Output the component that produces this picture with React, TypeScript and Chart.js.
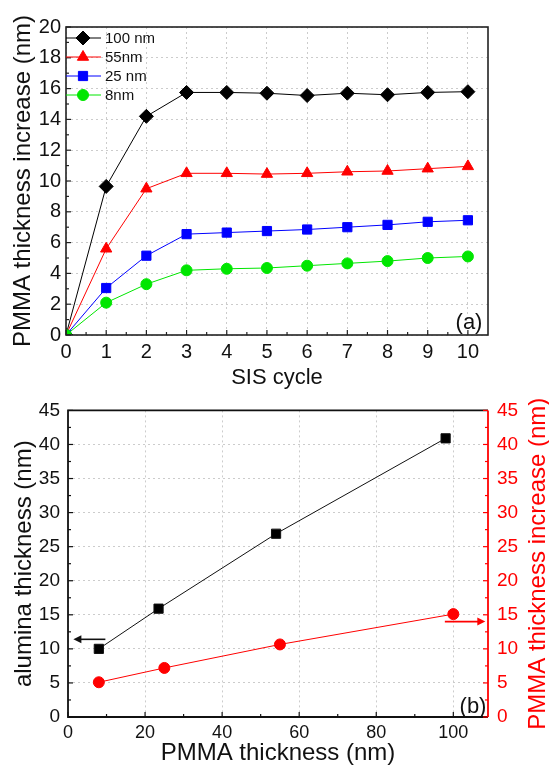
import React, { useEffect, useRef } from 'react';
import { Chart, registerables } from 'chart.js';
import { drawPoint } from 'chart.js/helpers';

Chart.register(...registerables);

// ---------- Data: panel (a) ----------
const sisCycles = [0, 1, 2, 3, 4, 5, 6, 7, 8, 9, 10];
const inc100nm = [0, 9.65, 14.2, 15.75, 15.75, 15.7, 15.55, 15.7, 15.6, 15.75, 15.8];
const inc55nm = [0, 5.6, 9.5, 10.5, 10.5, 10.45, 10.5, 10.6, 10.65, 10.8, 10.95];
const inc25nm = [0, 3.05, 5.15, 6.55, 6.65, 6.75, 6.85, 7.0, 7.15, 7.35, 7.45];
const inc8nm = [0, 2.1, 3.3, 4.2, 4.3, 4.35, 4.5, 4.65, 4.8, 5.0, 5.1];
const seriesLabels = ['100 nm', '55nm', '25 nm', '8nm'];

// ---------- Data: panel (b) ----------
const aluminaPmmaThk = [8, 23.5, 54, 98];
const aluminaThk = [10, 15.9, 26.9, 40.9];
const incPmmaThk = [8, 25, 55, 100];
const incThk = [5.1, 7.2, 10.65, 15.1];

const FONT = "'Liberation Sans', Arial, Helvetica, sans-serif";
Chart.defaults.font.family = FONT;
Chart.defaults.color = '#111';

const toXY = (xs: number[], ys: number[]) => xs.map((x, i) => ({ x, y: ys[i] }));

function tickMarks(
  ctx: CanvasRenderingContext2D,
  scale: any,
  values: number[],
  len: number,
  side: 'bottom' | 'left' | 'right',
  area: any,
) {
  values.forEach((v) => {
    const p = scale.getPixelForValue(v);
    ctx.beginPath();
    if (side === 'bottom') {
      ctx.moveTo(p, area.bottom);
      ctx.lineTo(p, area.bottom - len);
    } else if (side === 'left') {
      ctx.moveTo(area.left, p);
      ctx.lineTo(area.left + len, p);
    } else {
      ctx.moveTo(area.right, p);
      ctx.lineTo(area.right - len, p);
    }
    ctx.stroke();
  });
}

function range(a: number, b: number, step: number) {
  const out: number[] = [];
  for (let v = a; v <= b + 1e-9; v += step) out.push(Math.round(v * 100) / 100);
  return out;
}

function arrow(ctx: CanvasRenderingContext2D, x0: number, y0: number, x1: number, y1: number, color: string) {
  const dir = Math.sign(x1 - x0);
  ctx.save();
  ctx.strokeStyle = color;
  ctx.fillStyle = color;
  ctx.lineWidth = 1.6;
  ctx.beginPath();
  ctx.moveTo(x0, y0);
  ctx.lineTo(x1 - dir * 6, y1);
  ctx.stroke();
  ctx.beginPath();
  ctx.moveTo(x1, y1);
  ctx.lineTo(x1 - dir * 8, y1 - 4);
  ctx.lineTo(x1 - dir * 8, y1 + 4);
  ctx.closePath();
  ctx.fill();
  ctx.restore();
}

const gridOpts = { color: '#cccccc', drawTicks: false, lineWidth: 1 };
const borderOpts = { display: false, dash: [2, 3] };

export default function App() {
  const topRef = useRef<HTMLCanvasElement>(null);
  const botRef = useRef<HTMLCanvasElement>(null);

  useEffect(() => {
    const topPlugin = {
      id: 'topDecor',
      afterDatasetsDraw(chart: any) {
        const { ctx, chartArea: a, scales } = chart;
        ctx.save();
        ctx.strokeStyle = '#222';
        ctx.lineWidth = 1.6;
        ctx.strokeRect(a.left, a.top, a.right - a.left, a.bottom - a.top);
        ctx.lineWidth = 1.2;
        tickMarks(ctx, scales.x, range(0, 10, 1), 5, 'bottom', a);
        tickMarks(ctx, scales.x, range(0.5, 10, 1), 3, 'bottom', a);
        tickMarks(ctx, scales.y, range(0, 20, 2), 5, 'left', a);
        tickMarks(ctx, scales.y, range(1, 19, 2), 3, 'left', a);

        // legend
        const ys = [38, 57, 76, 95];
        chart.data.datasets.forEach((ds: any, i: number) => {
          const y = ys[i];
          ctx.strokeStyle = ds.borderColor;
          ctx.fillStyle = ds.backgroundColor;
          ctx.lineWidth = 1;
          ctx.beginPath();
          ctx.moveTo(a.left, y);
          ctx.lineTo(a.left + 35, y);
          ctx.stroke();
          drawPoint(ctx, { pointStyle: ds.pointStyle, radius: ds.pointRadius, rotation: 0, borderWidth: 1 }, a.left + 17, y);
          ctx.fillStyle = '#111';
          ctx.font = `15px ${FONT}`;
          ctx.textAlign = 'left';
          ctx.textBaseline = 'middle';
          ctx.fillText(ds.label, a.left + 39, y + 1);
        });

        ctx.fillStyle = '#111';
        ctx.font = `22px ${FONT}`;
        ctx.textAlign = 'center';
        ctx.textBaseline = 'middle';
        ctx.fillText('(a)', a.right - 19, a.bottom - 12);
        ctx.restore();
      },
    };

    const top = new Chart(topRef.current!, {
      type: 'line',
      data: {
        datasets: [
          { label: seriesLabels[0], data: toXY(sisCycles, inc100nm), borderColor: '#000000', backgroundColor: '#000000', pointStyle: 'rectRot', pointRadius: 7, order: 3 },
          { label: seriesLabels[1], data: toXY(sisCycles, inc55nm), borderColor: '#ff0000', backgroundColor: '#ff0000', pointStyle: 'triangle', pointRadius: 6.5, order: 2 },
          { label: seriesLabels[2], data: toXY(sisCycles, inc25nm), borderColor: '#0000ff', backgroundColor: '#0000ff', pointStyle: 'rect', pointRadius: 6.5, order: 1 },
          { label: seriesLabels[3], data: toXY(sisCycles, inc8nm), borderColor: '#00e600', backgroundColor: '#00e600', pointStyle: 'circle', pointRadius: 5.5, order: 0 },
        ].map((d) => ({ ...d, borderWidth: 1, pointBorderWidth: 1, tension: 0, pointHoverRadius: d.pointRadius })) as any,
      },
      options: {
        animation: false,
        responsive: false,
        devicePixelRatio: 1,
        layout: { padding: { left: 0, top: 27, right: 61, bottom: 0 } },
        plugins: { legend: { display: false }, tooltip: { enabled: false } },
        scales: {
          x: {
            type: 'linear',
            min: 0,
            max: 10.5,
            afterFit: (s: any) => { s.height = 55; },
            ticks: { stepSize: 1, includeBounds: false, padding: 5, font: { size: 20 }, color: '#111' },
            grid: gridOpts,
            border: borderOpts,
            title: { display: true, text: 'SIS cycle', font: { size: 22, lineHeight: 1 }, padding: { top: 0, bottom: 1 }, color: '#111' },
          },
          y: {
            type: 'linear',
            min: 0,
            max: 20,
            afterFit: (s: any) => { s.width = 66; },
            ticks: { stepSize: 2, padding: 5, font: { size: 20 }, color: '#111' },
            grid: gridOpts,
            border: borderOpts,
            title: { display: true, text: 'PMMA thickness increase (nm)', font: { size: 24, lineHeight: 1 }, padding: { top: 11, bottom: 0 }, color: '#111' },
          },
        },
      } as any,
      plugins: [topPlugin],
    });

    const botPlugin = {
      id: 'botDecor',
      afterDatasetsDraw(chart: any) {
        const { ctx, chartArea: a, scales } = chart;
        ctx.save();
        ctx.lineWidth = 1.8;
        ctx.strokeStyle = '#111';
        ctx.beginPath();
        ctx.moveTo(a.right, a.top);
        ctx.lineTo(a.left, a.top);
        ctx.lineTo(a.left, a.bottom);
        ctx.lineTo(a.right, a.bottom);
        ctx.stroke();
        ctx.strokeStyle = '#ff0000';
        ctx.beginPath();
        ctx.moveTo(a.right, a.top);
        ctx.lineTo(a.right, a.bottom);
        ctx.stroke();

        ctx.lineWidth = 1.2;
        ctx.strokeStyle = '#111';
        tickMarks(ctx, scales.x, range(0, 100, 20), 5, 'bottom', a);
        tickMarks(ctx, scales.x, range(10, 100, 20), 3, 'bottom', a);
        tickMarks(ctx, scales.y, range(0, 45, 5), 5, 'left', a);
        tickMarks(ctx, scales.y, range(2.5, 45, 5), 3, 'left', a);
        ctx.strokeStyle = '#ff0000';
        tickMarks(ctx, scales.y2, range(0, 45, 5), 5, 'right', a);
        tickMarks(ctx, scales.y2, range(2.5, 45, 5), 3, 'right', a);

        // axis indicator arrows
        const X = scales.x;
        arrow(ctx, X.getPixelForValue(9.7), scales.y.getPixelForValue(11.4), X.getPixelForValue(1.4), scales.y.getPixelForValue(11.4), '#111');
        arrow(ctx, X.getPixelForValue(97.8), scales.y2.getPixelForValue(14), X.getPixelForValue(108.3), scales.y2.getPixelForValue(14), '#ff0000');

        // right axis title (reads bottom-to-top)
        ctx.save();
        ctx.translate(chart.width - 11, (a.top + a.bottom) / 2);
        ctx.rotate(-Math.PI / 2);
        ctx.fillStyle = '#ff0000';
        ctx.font = `24px ${FONT}`;
        ctx.textAlign = 'center';
        ctx.textBaseline = 'middle';
        ctx.fillText('PMMA thickness increase (nm)', 0, 0);
        ctx.restore();

        ctx.fillStyle = '#111';
        ctx.font = `22px ${FONT}`;
        ctx.textAlign = 'center';
        ctx.textBaseline = 'middle';
        ctx.fillText('(b)', a.right - 15, a.bottom - 10);
        ctx.restore();
      },
    };

    const bot = new Chart(botRef.current!, {
      type: 'line',
      data: {
        datasets: [
          { label: 'alumina thickness', data: toXY(aluminaPmmaThk, aluminaThk), yAxisID: 'y', borderColor: '#111111', backgroundColor: '#000000', pointStyle: 'rect', pointRadius: 6.5, borderWidth: 1, pointBorderWidth: 1, tension: 0 },
          { label: 'PMMA thickness increase', data: toXY(incPmmaThk, incThk), yAxisID: 'y2', borderColor: '#ff0000', backgroundColor: '#ff0000', pointStyle: 'circle', pointRadius: 5.5, borderWidth: 1, pointBorderWidth: 1, tension: 0 },
        ] as any,
      },
      options: {
        animation: false,
        responsive: false,
        devicePixelRatio: 1,
        layout: { padding: { left: 0, top: 12, right: 0, bottom: 0 } },
        plugins: { legend: { display: false }, tooltip: { enabled: false } },
        scales: {
          x: {
            type: 'linear',
            min: 0,
            max: 109,
            afterFit: (s: any) => { s.height = 52; },
            ticks: { stepSize: 20, includeBounds: false, padding: 5, font: { size: 18 }, color: '#111' },
            grid: gridOpts,
            border: borderOpts,
            title: { display: true, text: 'PMMA thickness (nm)', font: { size: 24, lineHeight: 1 }, padding: { top: 0, bottom: 4 }, color: '#111' },
          },
          y: {
            type: 'linear',
            position: 'left',
            min: 0,
            max: 45,
            afterFit: (s: any) => { s.width = 68; },
            ticks: { stepSize: 5, padding: 8, font: { size: 19 }, color: '#111' },
            grid: gridOpts,
            border: borderOpts,
            title: { display: true, text: 'alumina thickness (nm)', font: { size: 24, lineHeight: 1 }, padding: { top: 12, bottom: 0 }, color: '#111' },
          },
          y2: {
            type: 'linear',
            position: 'right',
            min: 0,
            max: 45,
            afterFit: (s: any) => { s.width = 61; },
            ticks: { stepSize: 5, padding: 9, font: { size: 19 }, color: '#ff0000' },
            grid: { display: false, drawTicks: false },
            border: { display: false },
            title: { display: false },
          },
        },
      } as any,
      plugins: [botPlugin],
    });

    return () => {
      top.destroy();
      bot.destroy();
    };
  }, []);

  return (
    <div style={{ position: 'absolute', left: 0, top: 0, width: 549, height: 769, background: '#fff' }}>
      <canvas ref={topRef} width={549} height={390} style={{ position: 'absolute', left: 0, top: 0, display: 'block' }} />
      <canvas ref={botRef} width={549} height={379} style={{ position: 'absolute', left: 0, top: 390, display: 'block' }} />
    </div>
  );
}
